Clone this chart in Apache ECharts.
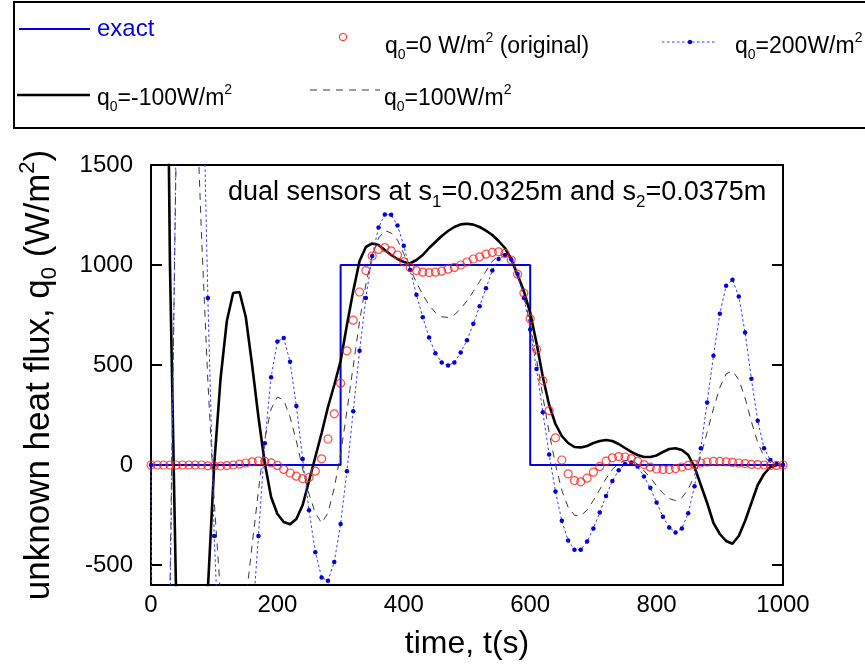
<!DOCTYPE html>
<html>
<head>
<meta charset="utf-8">
<script src="https://cdn.jsdelivr.net/npm/echarts@6/dist/echarts.min.js"></script>
<style>
html,body{margin:0;padding:0;background:#fff;}
#chart{width:865px;height:665px;}
</style>
</head>
<body>
<div id="chart"></div>
<script>
// time samples (s)
const times = [0,10,20,30,40,50,60,70,80,90,100,110,120,130,140,150,160,170,180,190,200,210,220,230,240,250,260,270,280,290,300,310,320,330,340,350,360,370,380,390,400,410,420,430,440,450,460,470,480,490,500,510,520,530,540,550,560,570,580,590,600,610,620,630,640,650,660,670,680,690,700,710,720,730,740,750,760,770,780,790,800,810,820,830,840,850,860,870,880,890,900,910,920,930,940,950,960,970,980,990,1000];

// exact heat flux (step)
const exactT = [0,300,300,600,600,1000];
const exactQ = [0,0,1000,1000,0,0];

// q0 = 0 W/m2 (original)
const q0zero = [0,0,0,0,0,0,0,0,0,-4,-5,-5,-3,0,4,10,
  16,20,18,11,-2,-22,-40,-56,-68,-62,
  -31,31,130,256,409,571,724,865,972,1045,
  1078,1087,1071,1050,1016,988,972,964,962,964,
  969,979,988,1000,1015,1030,1041,1054,1063,1066,
  1058,1025,954,860,731,579,422,272,136,25,
  -44,-78,-84,-66,-36,-7,19,36,42,40,
  32,18,2,-11,-20,-23,-23,-18,-10,-2,
  3,10,15,18,18,16,13,10,7,3,
  2,0,-2,-2,0];

// q0 = 200 W/m2
const q0p200 = [0,-6000,-4000,-750,1700,3500,4500,4000,2280,835,
  -355,-1100,-1500,-1600,-1450,-1150,-800,-355,109,439,
  617,635,516,295,30,-226,-436,-563,-579,-485,
  -295,-31,269,571,835,1045,1187,1253,1251,1198,
  1096,975,851,739,637,559,513,497,513,563,
  624,706,794,884,972,1030,1050,1028,955,835,
  678,480,264,52,-132,-279,-378,-424,-424,-383,
  -317,-238,-155,-80,-26,5,12,-8,-57,-114,
  -188,-259,-312,-337,-317,-241,-106,84,312,546,
  756,896,926,843,662,431,221,84,25,5,
  0];

// q0 = -100 W/m2
const q0m100 = [5000,6000,4000,1000,-700,-1800,-2200,-2000,-1300,-620,
  0,430,720,860,865,740,500,240,10,-160,
  -245,-285,-296,-270,-200,-80,40,160,290,400,
  520,700,870,1020,1090,1108,1100,1075,1050,1030,
  1015,1008,1025,1050,1085,1115,1145,1170,1190,1203,
  1206,1202,1190,1172,1150,1120,1085,1030,950,870,
  761,610,440,300,205,145,110,90,88,95,
  110,120,125,120,105,85,66,50,40,40,
  48,65,80,84,75,50,-10,-100,-190,-290,
  -345,-380,-394,-355,-280,-190,-100,-45,-10,0,
  0];

// q0 = 100 W/m2
const q0p100 = [-2500,-3000,-2000,-620,1600,2250,2600,2000,1140,418,
  -180,-650,-760,-820,-800,-680,-400,-130,130,280,
  340,325,240,120,-20,-145,-240,-290,-240,-115,
  55,270,495,718,905,1045,1135,1172,1160,1125,
  1056,982,912,852,800,762,741,738,750,782,
  820,868,918,969,1018,1048,1054,1027,955,848,
  705,530,343,162,2,-127,-211,-251,-254,-225,
  -177,-123,-68,-22,8,22,22,5,-28,-63,
  -104,-141,-168,-178,-164,-122,-52,47,164,282,
  387,456,470,427,335,217,112,42,12,2,
  0];

// axis ticks
const xTicks = [0,200,400,600,800,1000];
const yTicks = [-500,0,500,1000,1500];

const FONT = "'Liberation Sans', Arial, Helvetica, sans-serif";
const pairs = (xs, ys) => xs.map((x, i) => [x, ys[i]]);

function richQ(size, color, lh) {
  const s = Math.round(size * 0.62);
  const L = lh || Math.round(size * 1.35);
  return {
    n: {fontSize: size, fontFamily: FONT, color: color, lineHeight: L, verticalAlign: 'middle'},
    s: {fontSize: s, fontFamily: FONT, color: color, lineHeight: s, verticalAlign: 'bottom'},
    p: {fontSize: s, fontFamily: FONT, color: color, lineHeight: s, verticalAlign: 'top'}
  };
}

const chart = echarts.init(document.getElementById('chart'), null, {renderer: 'canvas'});

const option = {
  animation: false,
  backgroundColor: '#fff',
  grid: {left: 151, right: 82, top: 165, bottom: 78, show: false},
  xAxis: [{
    type: 'value', min: 0, max: 1000, interval: 200, position: 'bottom',
    axisLine: {show: true, onZero: false, lineStyle: {color: '#000', width: 2}},
    axisTick: {show: false},
    splitLine: {show: false},
    axisLabel: {color: '#000', fontSize: 24, fontFamily: FONT, margin: 8, customValues: xTicks, formatter: v => String(v)},
    name: 'time, t(s)', nameLocation: 'middle', nameGap: 43,
    nameTextStyle: {color: '#000', fontSize: 32, fontFamily: FONT}
  }, {
    type: 'value', min: 0, max: 1000, position: 'top',
    axisLine: {show: true, onZero: false, lineStyle: {color: '#000', width: 2}},
    axisTick: {show: false}, axisLabel: {show: false}, splitLine: {show: false}
  }],
  yAxis: [{
    type: 'value', min: -600, max: 1500, position: 'left',
    axisLine: {show: true, onZero: false, lineStyle: {color: '#000', width: 2}},
    axisTick: {show: true, inside: true, length: 11, lineStyle: {color: '#000', width: 2}, customValues: yTicks},
    axisLabel: {color: '#000', fontSize: 24, fontFamily: FONT, margin: 18, customValues: yTicks, formatter: v => String(v)},
    splitLine: {show: false},
    name: '{n|unknown heat flux, q}{s|0}{n| (W/m}{p|2}{n|)}',
    nameLocation: 'middle', nameGap: 90,
    nameTextStyle: {color: '#000', fontSize: 35, fontFamily: FONT, rich: richQ(35, '#000', 44)}
  }, {
    type: 'value', min: -600, max: 1500, position: 'right',
    axisLine: {show: true, onZero: false, lineStyle: {color: '#000', width: 2}},
    axisTick: {show: true, inside: true, length: 11, lineStyle: {color: '#000', width: 2}, customValues: yTicks},
    axisLabel: {show: false}, splitLine: {show: false}
  }],
  series: [
    {
      name: 'exact', type: 'line', data: pairs(exactT, exactQ),
      symbol: 'none', lineStyle: {color: '#0000e6', width: 2}, z: 2
    },
    {
      name: 'q0=-100', type: 'line', data: pairs(times, q0m100),
      symbol: 'none', lineStyle: {color: '#000', width: 2.6}, z: 3
    },
    {
      name: 'q0=100', type: 'line', data: pairs(times, q0p100),
      symbol: 'none', lineStyle: {color: '#3a3a3a', width: 1, type: [7, 6]}, z: 3
    },
    {
      name: 'q0=200', type: 'line', data: pairs(times, q0p200),
      symbol: 'circle', symbolSize: 4.5, showAllSymbol: true,
      itemStyle: {color: '#0000d8'},
      lineStyle: {color: '#3a3aff', width: 1, type: [2.5, 2.5]}, z: 4
    },
    {
      name: 'q0=0', type: 'scatter', data: pairs(times, q0zero),
      symbol: 'circle', symbolSize: 8,
      itemStyle: {color: 'rgba(255,255,255,0)', borderColor: '#ff2020', borderWidth: 1.2}, z: 5
    }
  ],
  graphic: [
    {type: 'rect', shape: {x: 14, y: 2, width: 880, height: 126}, style: {fill: 'none', stroke: '#000', lineWidth: 2}, silent: true},
    {type: 'line', shape: {x1: 19, y1: 29, x2: 90, y2: 29}, style: {stroke: '#0000e6', lineWidth: 2}},
    {type: 'text', x: 97, y: 29, style: {text: 'exact', font: '24px ' + FONT, fill: '#0000e6', verticalAlign: 'middle'}},
    {type: 'circle', shape: {cx: 343, cy: 37, r: 3.7}, style: {fill: 'none', stroke: '#ff2020', lineWidth: 1}},
    {type: 'text', x: 385, y: 47, style: {text: '{n|q}{s|0}{n|=0 W/m}{p|2}{n| (original)}', rich: richQ(23, '#ff1a1a'), verticalAlign: 'middle'}},
    {type: 'line', shape: {x1: 662, y1: 42, x2: 717, y2: 42}, style: {stroke: '#3a3aff', lineWidth: 1, lineDash: [2.5, 2.5]}},
    {type: 'circle', shape: {cx: 690, cy: 42, r: 2.2}, style: {fill: '#0000d8'}},
    {type: 'text', x: 735, y: 47, style: {text: '{n|q}{s|0}{n|=200W/m}{p|2}', rich: richQ(23, '#0000e6'), verticalAlign: 'middle'}},
    {type: 'line', shape: {x1: 17, y1: 95, x2: 90, y2: 95}, style: {stroke: '#000', lineWidth: 2.6}},
    {type: 'text', x: 97, y: 99, style: {text: '{n|q}{s|0}{n|=-100W/m}{p|2}', rich: richQ(23, '#000'), verticalAlign: 'middle'}},
    {type: 'line', shape: {x1: 310, y1: 90, x2: 380, y2: 90}, style: {stroke: '#3a3a3a', lineWidth: 1, lineDash: [7, 6]}},
    {type: 'text', x: 384, y: 99, style: {text: '{n|q}{s|0}{n|=100W/m}{p|2}', rich: richQ(23, '#000'), verticalAlign: 'middle'}},
    {type: 'text', x: 228, y: 193, z: 10, style: {text: '{n|dual sensors at s}{s|1}{n|=0.0325m and s}{s|2}{n|=0.0375m}', rich: richQ(27, '#000'), verticalAlign: 'middle'}}
  ]
};
chart.setOption(option);
</script>
</body>
</html>
